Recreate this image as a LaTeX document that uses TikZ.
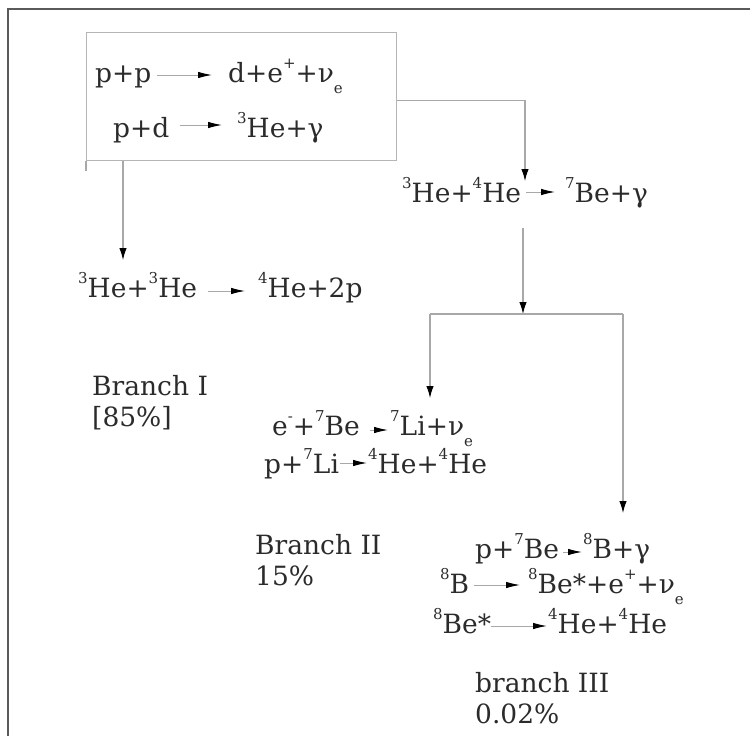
\documentclass[tikz,border=0pt]{standalone}
\usepackage{fontspec}
\setmainfont{DejaVu Serif}
\usetikzlibrary{arrows.meta}
\definecolor{txt}{HTML}{2B2B2B}
\definecolor{linegray}{HTML}{A8A8A8}
\definecolor{framegray}{HTML}{5A5A5A}
% small raised / lowered indices at a fixed size
\newcommand{\sups}[1]{\raisebox{0.5em}{\fontsize{15}{15}\selectfont #1}}
\newcommand{\nue}{ν\raisebox{-0.42em}{\fontsize{15}{15}\selectfont e}}
\tikzset{
  lbl/.style={font=\fontsize{26.5}{31}\selectfont, text=txt, inner sep=0pt, anchor=base west},
  rx/.style={draw=linegray, line width=1pt, -{Latex[length=14pt,width=6.5pt,color=black]}},
  cx/.style={draw=linegray, line width=1.2pt, -{Latex[length=12pt,width=7.5pt,color=black]}},
  cline/.style={draw=linegray, line width=1.2pt},
  boxstyle/.style={draw=linegray!85, line width=1.4pt, inner sep=0pt, anchor=north west,
    minimum width=310pt, minimum height=128pt},
  frame/.style={draw=framegray, line width=2pt}
}
\begin{document}
\begin{tikzpicture}[x=1pt,y=-1pt]
\useasboundingbox (0,0) rectangle (750,736);
% outer frame
\draw[frame] (8,736) -- (8,9) -- (750,9);

% first step box
\node[boxstyle] (box) at (86,32) {};
\draw[cline] (box.south west) -- ++(0,10);

\node[lbl] (ppL) at (95,82) {p+p};
\node[lbl] (ppR) at (228,82) {d+e\sups{+}+\nue};
\draw[rx] ([shift={(5pt,7pt)}]ppL.base east) -- ([shift={(-16pt,7pt)}]ppR.base west);

\node[lbl] (pdL) at (113,137) {p+d};
\node[lbl] (pdR) at (237,137) {\sups{3}He+γ};
\draw[rx] ([shift={(10pt,12pt)}]pdL.base east) -- ([shift={(-15pt,12pt)}]pdR.base west);

% 3He + 4He
\node[lbl] (h34L) at (402,202) {\sups{3}He+\sups{4}He};
\node[lbl] (h34R) at (565,202) {\sups{7}Be+γ};
\draw[rx] ([shift={(5pt,10pt)}]h34L.base east) -- ([shift={(-10pt,10pt)}]h34R.base west);

% branch I
\node[lbl] (h33L) at (78,297) {\sups{3}He+\sups{3}He};
\node[lbl] (h33R) at (258,297) {\sups{4}He+2p};
\draw[rx] ([shift={(11pt,6pt)}]h33L.base east) -- ([shift={(-13pt,6pt)}]h33R.base west);
\node[lbl, align=left, anchor=north west] (br1) at (92,375) {Branch I\\{[}85\%{]}};

% branch II
\node[lbl] (e7L) at (272,435) {e\sups{-}+\sups{7}Be};
\node[lbl] (e7R) at (390,435) {\sups{7}Li+\nue};
\draw[rx] ([shift={(10pt,5pt)}]e7L.base east) -- ([shift={(-2pt,5pt)}]e7R.base west);
\node[lbl] (p7L) at (264,473) {p+\sups{7}Li};
\node[lbl] (p7R) at (368,473) {\sups{4}He+\sups{4}He};
\draw[rx] ([shift={(1pt,10pt)}]p7L.base east) -- ([shift={(-1pt,10pt)}]p7R.base west);
\node[lbl, align=left, anchor=north west] (br2) at (255,534) {Branch II\\15\%};

% branch III
\node[lbl] (pbL) at (475,558) {p+\sups{7}Be};
\node[lbl] (pbR) at (583,558) {\sups{8}B+γ};
\draw[rx] ([shift={(4pt,6pt)}]pbL.base east) -- ([shift={(-1pt,6pt)}]pbR.base west);
\node[lbl] (b8L) at (440,593) {\sups{8}B};
\node[lbl] (b8R) at (528,593) {\sups{8}Be*+e\sups{+}+\nue};
\draw[rx] ([shift={(5pt,8pt)}]b8L.base east) -- ([shift={(-8pt,8pt)}]b8R.base west);
\node[lbl] (beL) at (433,633) {\sups{8}Be*};
\node[lbl] (beR) at (548,633) {\sups{4}He+\sups{4}He};
\draw[rx] ([shift={(0pt,7pt)}]beL.base east) -- ([shift={(-1pt,7pt)}]beR.base west);
\node[lbl, align=left, anchor=north west] (br3) at (475,672) {branch III\\0.02\%};

% connectors
\coordinate (t1) at (123,260);
\draw[cx] (box.south -| t1) -- (t1);
\coordinate (t2) at (525,181);
\draw[cx] ([yshift=-4pt]box.east) -| (t2);
\coordinate (s3) at (523,228);
\coordinate (j3) at (523,314);
\draw[cx] (s3) -- (j3);
\coordinate (jl) at (430,314);
\coordinate (jr) at (623,314);
\draw[cline] (jl) -- (jr);
\coordinate (t4) at (430,398);
\coordinate (t5) at (623,513);
\draw[cx] (jl) -- (t4);
\draw[cx] (jr) -- (t5);
\end{tikzpicture}
\end{document}
